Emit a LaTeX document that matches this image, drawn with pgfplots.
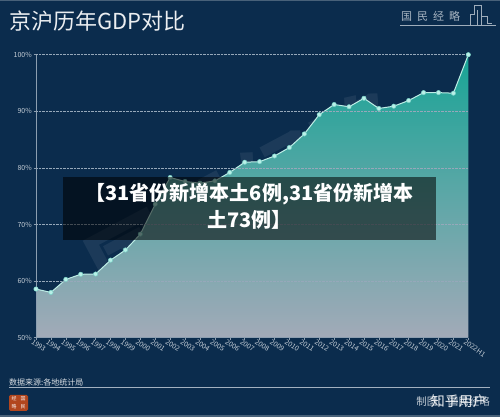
\documentclass[border=0pt]{standalone}
\usepackage{pgfplots}
\usepackage{pgfplotstable}
\pgfplotsset{compat=1.18}
\usepackage{fontspec}
\setmainfont{Noto Sans CJK SC}
\definecolor{bg}{RGB}{11,44,77}
\definecolor{tickc}{RGB}{196,205,214}
\definecolor{gridc}{RGB}{150,168,186}
\definecolor{axc}{RGB}{140,158,176}
\definecolor{areatop}{RGB}{24,164,150}
\definecolor{areabot}{RGB}{162,170,184}
\definecolor{linec}{RGB}{190,238,230}
\definecolor{markc}{RGB}{185,240,232}
\definecolor{logored}{RGB}{178,70,30}
\pgfplotstableread{
x y
0 58.6
1 58.0
2 60.3
3 61.2
4 61.25
5 63.7
6 65.5
7 68.3
8 73.6
9 78.3
10 77.6
11 77.3
12 77.7
13 79.2
14 81.0
15 81.1
16 82.1
17 83.6
18 86.0
19 89.4
20 91.2
21 90.8
22 92.3
23 90.5
24 90.9
25 91.9
26 93.3
27 93.3
28 93.2
29 100.0
}\gdp
\begin{document}
\begin{tikzpicture}[x=1pt,y=1pt]
\fill[bg] (0,0) rectangle (500,417);
\useasboundingbox (0,0) rectangle (500,417);
\fill[bg!75!white] (0,415.5) rectangle (500,417);
\fill[bg!75!white] (0,0) rectangle (500,1.5);
% title
\node[anchor=west, text=white!92!bg, font=\fontsize{22}{24}\selectfont, inner sep=0] at (9,396) {京沪历年GDP对比};
% top-right logo
\node[anchor=west, text=tickc!85!bg, font=\fontsize{11}{12}\selectfont, inner sep=0] at (401,401) {国\hspace{5pt}民\hspace{5pt}经\hspace{5pt}略};
\draw[tickc!80!bg, line width=0.6pt] (400,392) -- (496,392);
\draw[tickc!80!bg, line width=0.6pt] (470,392) -- (470,403) -- (474,403) -- (474,412) -- (481,412) -- (481,392);
\draw[tickc!80!bg, line width=0.6pt] (477,407) -- (477,392);
\draw[tickc!80!bg, line width=0.6pt] (481,401) -- (487,401) -- (487,394) -- (492,394);
% big watermark
\node[rotate=28, text=white, opacity=0.07, inner sep=0, font=\bfseries\fontsize{85}{90}\selectfont] at (245,220) {国民经略};
\begin{axis}[
  at={(36pt,79.3pt)}, anchor=south west,
  scale only axis, width=432.3pt, height=283pt,
  xmin=0, xmax=29, ymin=50, ymax=100,
  clip=false, axis on top,
  axis x line*=bottom, axis y line*=left,
  axis line style={axc, line width=0.6pt},
  tick style={axc, line width=0.5pt},
  major tick length=2.5pt, tick align=outside,
  xtick={0,...,29},
  xticklabels={1993,1994,1995,1996,1997,1998,1999,2000,2001,2002,2003,2004,2005,2006,2007,2008,2009,2010,2011,2012,2013,2014,2015,2016,2017,2018,2019,2020,2021,2022H1},
  ytick={50,60,...,100},
  yticklabel={\pgfmathprintnumber{\tick}\%},
  ymajorgrids, grid style={densely dotted, gridc, line width=0.5pt},
  ticklabel style={text=tickc, font=\fontsize{7}{8}\selectfont},
  /pgf/number format/assume math mode=true,
  xticklabel style={rotate=-34, anchor=north west, inner sep=0.3pt, xshift=-3pt, font=\fontsize{7}{7.5}\selectfont},
  yticklabel style={inner sep=1.5pt},
]
\addplot[draw=none, top color=areatop, bottom color=areabot, forget plot] table[x=x,y=y]{\gdp} \closedcycle;
\addplot[linec, line width=1pt, mark=*, mark size=2.2pt, mark options={fill=markc, draw=markc!60!areatop, line width=0.5pt}] table[x=x,y=y]{\gdp};
\end{axis}
% overlay caption box
\fill[black, opacity=0.55] (63,240) rectangle (436,177);
\node[text=white, font=\bfseries\fontsize{20}{27.3}\selectfont, align=center] at (249.5,210.5) {【31省份新增本土6例,31省份新增本\\土73例】};
% footer
\node[anchor=west, text=white!85!bg, font=\fontsize{8}{9}\selectfont, inner sep=0] at (9,35) {数据来源:各地统计局};
\draw[axc!80!white, line width=0.8pt] (9,29.5) -- (490,29.5);
\fill[logored, rounded corners=1.5pt] (9,6) rectangle (28,22);
\node[text=white!90!logored, font=\fontsize{5}{5.5}\selectfont, inner sep=0] at (23,18) {国};
\node[text=white!90!logored, font=\fontsize{5}{5.5}\selectfont, inner sep=0] at (23,10.5) {民};
\node[text=white!90!logored, font=\fontsize{5}{5.5}\selectfont, inner sep=0] at (14,18) {经};
\node[text=white!90!logored, font=\fontsize{5}{5.5}\selectfont, inner sep=0] at (14,10.5) {略};
\node[anchor=east, text=tickc, font=\fontsize{10.5}{12}\selectfont, inner sep=0] at (490,15) {制图：国民经略};
\node[anchor=east, text=white, opacity=0.9, font=\fontsize{14}{15}\selectfont, inner sep=0] at (487,16) {知乎用户};
\end{tikzpicture}
\end{document}
